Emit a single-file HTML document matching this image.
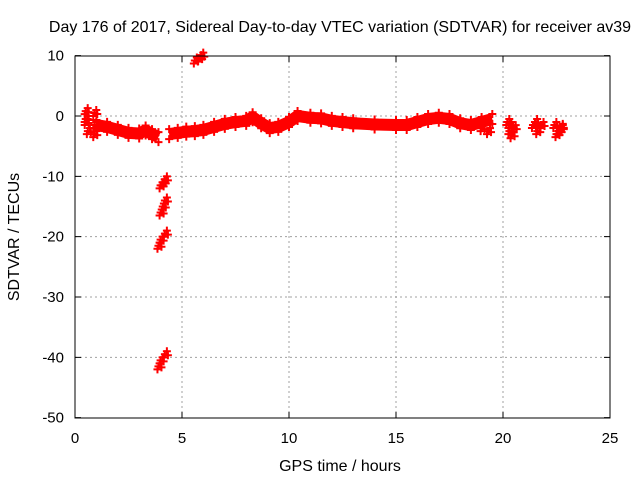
<!DOCTYPE html>
<html><head><meta charset="utf-8"><style>
body{margin:0;background:#fff}
svg{display:block;font-family:"Liberation Sans",sans-serif}
</style></head><body>
<svg id="chart" width="640" height="480">
<text x="340" y="32" font-size="16" text-anchor="middle">Day 176 of 2017, Sidereal Day-to-day VTEC variation (SDTVAR) for receiver av39</text>
<text x="340" y="471" font-size="16" text-anchor="middle">GPS time / hours</text>
<text transform="translate(19,237) rotate(-90)" font-size="16" text-anchor="middle">SDTVAR / TECUs</text>
<g id="grid"></g><g id="marks"></g>
<rect x="75" y="56" width="535" height="362" fill="none" stroke="#000" stroke-width="1"/>
</svg>
<script>
const xTicks=[0,5,10,15,20,25];
const yTicks=[10,0,-10,-20,-30,-40,-50];
// main band
const mainHours=[1.0,1.5,2.0,2.5,3.0,3.3,3.6,3.9,4.4,4.8,5.2,5.6,6.0,6.5,7.0,7.5,8.0,8.3,8.7,9.1,9.5,10.0,10.4,11.0,11.5,12.0,12.5,13.0,14.0,15.0,15.5,16.0,16.5,17.0,17.5,18.0,18.5,19.0,19.5];
const mainVtec=[-1.5,-1.8,-2.3,-2.8,-2.9,-2.4,-3.0,-3.5,-3.0,-2.8,-2.6,-2.5,-2.3,-1.8,-1.3,-1.0,-0.8,-0.2,-1.2,-2.0,-1.8,-1.0,0.0,-0.3,-0.4,-0.8,-1.0,-1.2,-1.4,-1.5,-1.5,-1.0,-0.5,-0.3,-0.5,-1.2,-1.5,-1.0,-0.5];
// scattered points
const scatHours=[0.5,0.5,0.6,0.9,0.9,0.5,0.9,5.6,5.8,5.9,4.0,4.1,4.2,4.0,4.1,4.2,3.9,4.0,4.2,3.9,4.0,4.2,20.2,20.3,20.4,20.3,20.5,21.4,21.6,21.5,21.8,22.4,22.6,22.5,22.7,19.3,19.0,22.7];
const scatVtec=[0.8,-0.5,-2.5,0.5,-3.0,-1.0,-1.5,9.2,9.6,10.0,-11.5,-11,-10.5,-16,-15,-14,-21.5,-20.5,-19.5,-41.5,-40.5,-39.5,-1,-2.5,-3.2,-1.5,-2,-1.5,-2.5,-1,-1.5,-1.5,-2.5,-3,-1.8,-2.5,-2,-2];
const X=h=>75+h*21.4, Y=v=>116-v*6.033;
const NS='http://www.w3.org/2000/svg';
const grid=document.getElementById('grid'), marks=document.getElementById('marks');
function mk(tag,attrs,parent){const e=document.createElementNS(NS,tag);for(const k in attrs)e.setAttribute(k,attrs[k]);parent.appendChild(e);return e;}
xTicks.forEach(t=>{const x=X(t);
 if(t>0&&t<25){const l=mk('line',{x1:x,x2:x,y1:56,y2:418,stroke:'#a0a0a0','stroke-dasharray':'2,3'},grid);
 }
 const tk=mk('path',{d:`M${x},418v-6M${x},56v6`,stroke:'#000'},grid);
 
 const tx=mk('text',{x:x,y:443,'font-size':15,'text-anchor':'middle'},grid);tx.textContent=t;
 });
yTicks.forEach(t=>{const y=Y(t);
 if(t<10&&t>-50){const l=mk('line',{x1:75,x2:610,y1:y,y2:y,stroke:'#a0a0a0','stroke-dasharray':'2,3'},grid);
 }
 const tk=mk('path',{d:`M75,${y}h6M610,${y}h-6`,stroke:'#000'},grid);
 
 const tx=mk('text',{x:64,y:y+5,'font-size':15,'text-anchor':'end'},grid);tx.textContent=t;
 });
// split band at the 4 h data gap
let seg=[];const segs=[];
mainHours.forEach((h,i)=>{if(i>0&&mainHours[i-1]<4&&h>=4){segs.push(seg);seg=[];}seg.push([X(h),Y(mainVtec[i])]);});segs.push(seg);
segs.forEach(s=>{const p=mk('polyline',{points:s.map(q=>q.join(',')).join(' '),fill:'none',stroke:'#f00','stroke-width':12,'stroke-linejoin':'round','stroke-linecap':'butt'},marks);
 });
function plus(x,y){const p=mk('path',{d:`M${x-4},${y}h8M${x},${y-4}v8`,stroke:'#f00','stroke-width':2},marks);
 }
mainHours.forEach((h,i)=>{plus(X(h),Y(mainVtec[i])-5);plus(X(h),Y(mainVtec[i])+5);});
scatHours.forEach((h,i)=>{const x=X(h),y=Y(scatVtec[i]);plus(x,y);plus(x+2,y-3);plus(x-1,y+3);plus(x+3,y+1);});
</script>
</body></html>
